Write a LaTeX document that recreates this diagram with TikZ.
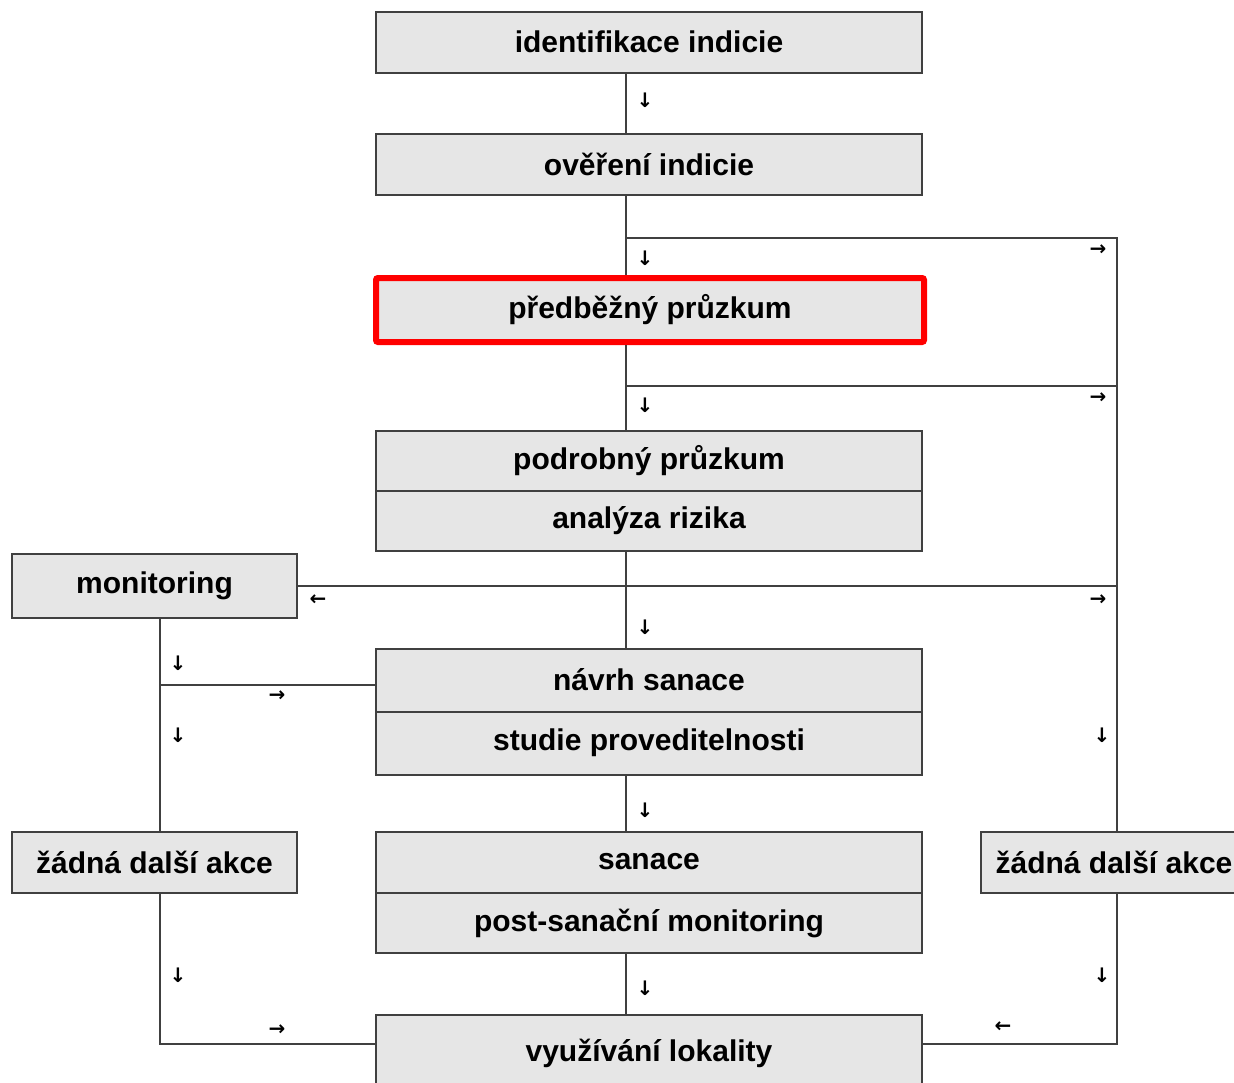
\documentclass[tikz,border=0pt]{standalone}
\usepackage{fontspec}
\setmainfont{Liberation Sans}
\newfontfamily\arrowfont{DejaVu Sans}
\usetikzlibrary{positioning}
\definecolor{boxgray}{RGB}{230,230,230}
\definecolor{linegray}{RGB}{64,64,64}
\definecolor{markred}{RGB}{255,0,0}

\begin{document}
\begin{tikzpicture}[x=1pt, y=-1pt,
    every node/.style={font=\fontsize{30}{36}\selectfont\bfseries},
    stepbox/.style={draw=linegray, line width=2pt, fill=boxgray, minimum width=546pt, minimum height=61pt, inner sep=0pt},
    sidebox/.style={stepbox, minimum width=285pt},
    conn/.style={draw=linegray, line width=2pt},
    dir/.style={font=\arrowfont\bfseries\fontsize{20}{20}\selectfont, inner sep=0pt}]
\useasboundingbox (0,0) rectangle (1234,1082);
\clip (0,0) rectangle (1234,1082);

% Rails
\coordinate (spine) at (626,0);
\coordinate (rail) at (1117,0);
\coordinate (lrail) at (160,0);
\coordinate (j1) at (626,238);
\coordinate (j2) at (626,386);
\coordinate (j4) at (160,685);
\coordinate (j5) at (160,1044);

% Main column
\node[stepbox] (ident) at (649,42) {identifikace indicie};
\node[stepbox] (overeni) at (649,164) {ověření indicie};
\node[stepbox, draw=markred, line width=6pt, rounded corners=2pt, minimum width=548pt, minimum height=64pt] (pred) at (650,310) {předběžný průzkum};
\node[stepbox, minimum height=60pt] (podrobny) at (649,461) {podrobný průzkum};
\node[stepbox, minimum height=60pt] (analyza) at (649,521) {analýza rizika};
\node[stepbox, minimum height=63pt] (navrh) at (649,680) {návrh sanace};
\node[stepbox, minimum height=63pt] (studie) at (649,743) {studie proveditelnosti};
\node[stepbox] (sanace) at (649,862) {sanace};
\node[stepbox, minimum height=60pt] (post) at (649,923) {post-sanační monitoring};
\node[stepbox, minimum height=76pt] (vyuz) at (649,1053) {využívání lokality};

% Side boxes
\node[sidebox, minimum height=64pt] (monitoring) at (154.5,586) {monitoring};
\node[sidebox] (zadnaL) at (154.5,862.5) {žádná další akce};
\node[sidebox, minimum width=266pt] (zadnaR) at (1114,862.5) {žádná další akce};

% Connectors
\draw[conn] (ident.south -| spine) -- (overeni.north -| spine);
\draw[conn] (overeni.south -| spine) -- (pred.north -| spine);
\draw[conn] (pred.south -| spine) -- (podrobny.north -| spine);
\draw[conn] (analyza.south -| spine) -- (navrh.north -| spine);
\draw[conn] (studie.south -| spine) -- (sanace.north -| spine);
\draw[conn] (post.south -| spine) -- (vyuz.north -| spine);
\draw[conn] (j1) -- (j1 -| rail) -- (rail |- zadnaR.north);
\draw[conn] (j2) -- (j2 -| rail);
\draw[conn] (monitoring.east) -- (rail |- monitoring.east);
\draw[conn] (monitoring.south -| lrail) -- (zadnaL.north -| lrail);
\draw[conn] (j4) -- (j4 -| navrh.west);
\draw[conn] (zadnaL.south -| lrail) -- (j5) -- (j5 -| vyuz.west);
\draw[conn] (zadnaR.south -| rail) -- (rail |- j5) -- (j5 -| vyuz.east);

% Direction marks
\foreach [count=\i] \x/\y/\g in {645/100/↓, 645/258/↓, 645/405/↓, 645/627/↓, 645/810/↓, 645/988/↓,
    1098/250/→, 1098/398/→, 1098/600/→, 318/600/←, 178/663/↓, 178/735/↓, 277/696/→,
    178/975/↓, 277/1030/→, 1102/735/↓, 1102/975/↓, 1003/1027/←}
    \node[dir] (mark\i) at (\x,\y) {\g};
\end{tikzpicture}
\end{document}
